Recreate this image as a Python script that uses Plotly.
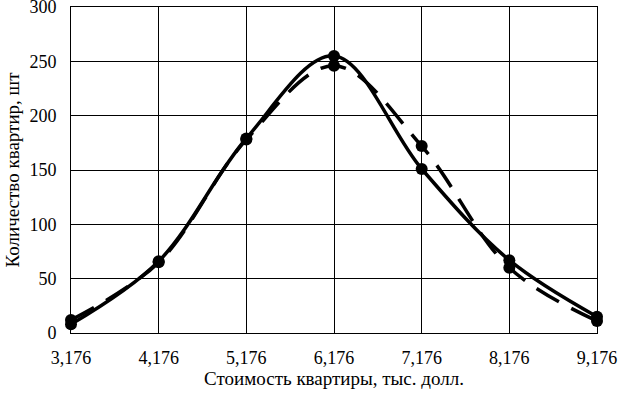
import plotly.graph_objects as go

categories = ["3,176", "4,176", "5,176", "6,176", "7,176", "8,176", "9,176"]
solid_values = [8, 66, 179, 255, 151, 67, 15]
dashed_values = [12, 65, 178, 246, 172, 60, 11]
y_ticks = [0, 50, 100, 150, 200, 250, 300]

xpos = list(range(len(categories)))
font = dict(family="Liberation Serif, Times New Roman, serif", size=18, color="black")
title_font = dict(family="Liberation Serif, Times New Roman, serif", size=19, color="black")

fig = go.Figure()
fig.add_trace(go.Scatter(
    x=xpos, y=dashed_values, mode="lines+markers",
    line=dict(color="black", width=3.5, dash="26px,14px", shape="spline", smoothing=1.0),
    marker=dict(color="black", size=12), cliponaxis=False, showlegend=False))
fig.add_trace(go.Scatter(
    x=xpos, y=solid_values, mode="lines+markers",
    line=dict(color="black", width=3.5, shape="spline", smoothing=1.0),
    marker=dict(color="black", size=12), cliponaxis=False, showlegend=False))

fig.update_layout(
    width=618, height=398,
    margin=dict(l=71, r=21, t=7, b=65),
    paper_bgcolor="white", plot_bgcolor="white",
    font=font,
    xaxis=dict(range=[0, 6], tickvals=xpos, ticktext=categories,
               showgrid=True, gridcolor="black", gridwidth=1,
               showline=True, linecolor="black", linewidth=1, mirror=True,
               zeroline=False, ticks="", ticklabelstandoff=8,
               ticklabeloverflow="allow", automargin=False,
               title=dict(text="Стоимость квартиры, тыс. долл.", font=title_font, standoff=3)),
    yaxis=dict(range=[0, 300], tickvals=y_ticks,
               showgrid=True, gridcolor="black", gridwidth=1,
               showline=True, linecolor="black", linewidth=1, mirror=True,
               zeroline=False, ticks="", ticklabelstandoff=10,
               ticklabeloverflow="allow", automargin=False,
               title=dict(text="Количество квартир, шт", font=title_font, standoff=4)),
)

fig.write_html("out.html", config={"displayModeBar": False},
               post_script="document.body.style.margin='0';document.body.style.overflow='hidden';")
